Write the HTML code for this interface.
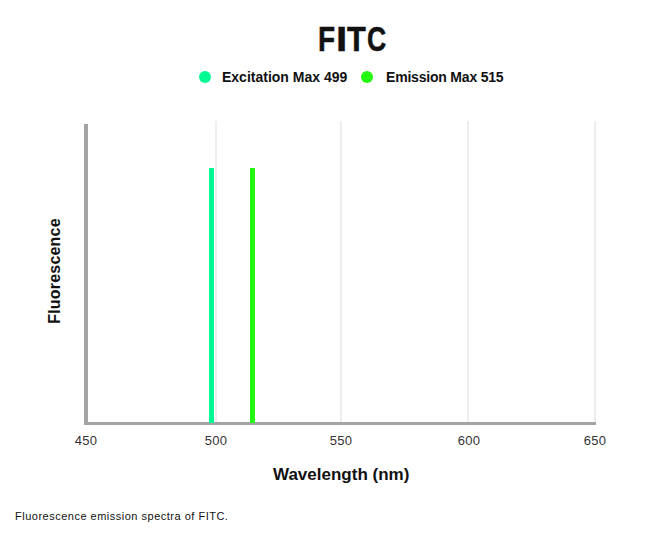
<!DOCTYPE html>
<html>
<head>
<meta charset="utf-8">
<style>
html,body{margin:0;padding:0;background:#fff;}
body{width:650px;height:533px;position:relative;overflow:hidden;font-family:"Liberation Sans",sans-serif;color:#111;}
.abs{position:absolute;white-space:nowrap;}
.t{font-weight:bold;}
.ti{top:19px;font-size:35px;line-height:40px;transform-origin:0 0;-webkit-text-stroke:0.5px #111;}
.grid{position:absolute;width:2px;background:#eeeeee;top:121px;height:302px;}
.tick{position:absolute;top:433px;font-size:13px;letter-spacing:0.3px;color:#333;width:40px;text-align:center;}
</style>
</head>
<body>
<!-- title -->
<div class="abs t ti" style="left:318.4px;transform:scaleX(0.8);">F</div>
<div class="abs t ti" style="left:336px;transform:scaleX(1.15);">I</div>
<div class="abs t ti" style="left:347px;transform:scaleX(0.88);">T</div>
<div class="abs t ti" style="left:367.2px;transform:scaleX(0.76);">C</div>
<!-- legend -->
<div class="abs" style="left:199px;top:71px;width:12px;height:12px;border-radius:50%;background:rgb(0,250,146);"></div>
<div class="abs t" id="leg1" style="left:222px;top:68px;font-size:14px;line-height:18px;">Excitation Max 499</div>
<div class="abs" style="left:361px;top:71px;width:12px;height:12px;border-radius:50%;background:rgb(34,248,16);"></div>
<div class="abs t" id="leg2" style="left:386px;top:68px;font-size:14px;letter-spacing:-0.2px;line-height:18px;">Emission Max 515</div>

<!-- grid lines -->
<div class="grid" style="left:215px;"></div>
<div class="grid" style="left:340px;"></div>
<div class="grid" style="left:467px;"></div>
<div class="grid" style="left:594px;"></div>

<!-- axes -->
<div class="abs" style="left:84px;top:124px;width:4px;height:301px;background:#a4a4a4;"></div>
<div class="abs" style="left:84px;top:422px;width:512px;height:3px;background:#a4a4a4;"></div>

<!-- bars -->
<div class="abs" style="left:209px;top:168px;width:5px;height:255px;background:rgb(0,250,146);"></div>
<div class="abs" style="left:250px;top:168px;width:5px;height:255px;background:rgb(34,248,16);"></div>

<!-- tick labels -->
<div class="tick" style="left:66px;">450</div>
<div class="tick" style="left:196px;">500</div>
<div class="tick" style="left:321px;">550</div>
<div class="tick" style="left:449px;">600</div>
<div class="tick" style="left:575px;">650</div>

<!-- axis titles -->
<div class="abs t" id="xt" style="left:273px;top:464.5px;font-size:17px;line-height:20px;">Wavelength (nm)</div>
<div class="abs t" id="yt" style="left:55px;top:271px;font-size:16px;letter-spacing:0.2px;line-height:20px;transform:translate(-50%,-50%) rotate(-90deg);">Fluorescence</div>

<!-- caption -->
<div class="abs" id="cap" style="left:15px;top:509px;font-size:11px;line-height:14px;color:#111;letter-spacing:0.5px;">Fluorescence emission spectra of FITC.</div>
</body>
</html>
